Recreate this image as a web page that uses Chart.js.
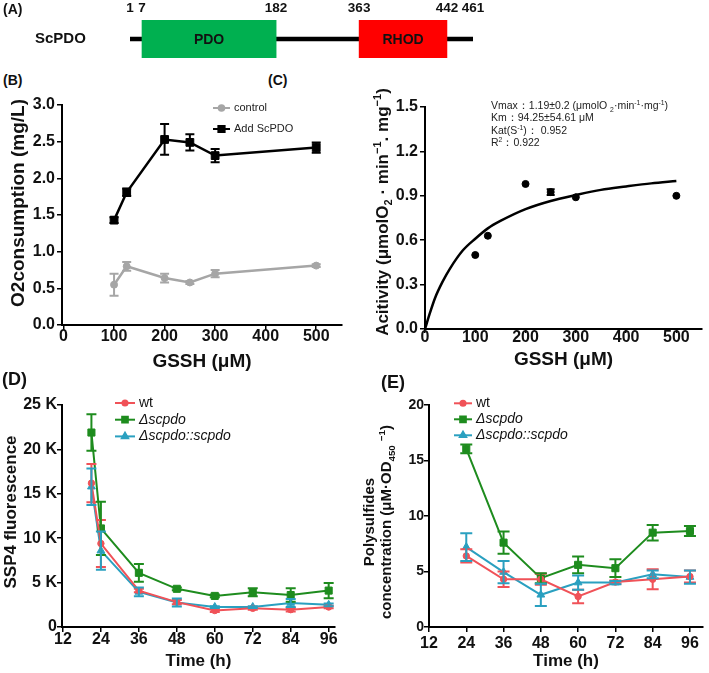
<!DOCTYPE html>
<html>
<head>
<meta charset="utf-8">
<script src="https://cdn.jsdelivr.net/npm/chart.js@4.4.1/dist/chart.umd.min.js"></script>
<style>
  body { margin: 0; background: #fff; font-family: Arial, "Liberation Sans", sans-serif; color: #111; }
  #fig { position: relative; width: 709px; height: 673px; overflow: hidden; }
  #fig canvas { position: absolute; }
  .lbl { position: absolute; font-weight: bold; white-space: nowrap; line-height: 1; }
  .ytitle { position: absolute; font-weight: bold; white-space: nowrap; text-align: center;
            transform: translate(-50%, -50%) rotate(-90deg); }
  .note { position: absolute; font-size: 10.5px; line-height: 12.3px; color: #222; white-space: nowrap; }
  sub, sup { font-size: 65%; line-height: 0; }
</style>
</head>
<body>
<div id="fig">
  <canvas id="cA" width="709" height="70" style="left:0px;top:0px"></canvas>
  <canvas id="cB" width="354" height="285" style="left:0px;top:88px"></canvas>
  <canvas id="cC" width="355" height="285" style="left:354px;top:88px"></canvas>
  <canvas id="cD" width="354" height="281" style="left:0px;top:392px"></canvas>
  <canvas id="cE" width="355" height="281" style="left:354px;top:392px"></canvas>

  <div class="lbl" style="left:3px;top:2px;font-size:14px">(A)</div>
  <div class="lbl" style="left:3px;top:73px;font-size:14px">(B)</div>
  <div class="lbl" style="left:268px;top:73px;font-size:14px">(C)</div>
  <div class="lbl" style="left:2px;top:370px;font-size:18px">(D)</div>
  <div class="lbl" style="left:381px;top:373px;font-size:18px">(E)</div>

  <div class="ytitle" style="left:18px;top:203px;font-size:19px">O2consumption (mg/L)</div>
  <div class="ytitle" style="left:383px;top:212px;font-size:17px">Acitivity (μmolO<sub>2</sub> · min<sup>−1</sup>. mg<sup>−1</sup>)</div>
  <div class="ytitle" style="left:11px;top:512px;font-size:17px">SSP4 fluorescence</div>
  <div class="ytitle" style="left:377px;top:522px;font-size:15px;line-height:17px">Polysulfides<br>concentration (μM·OD<sub>450</sub> <sup>−1</sup>)</div>

  <div class="note" style="left:491px;top:99px">
    Vmax：1.19±0.2 (μmolO <sub>2</sub>·min<sup>-1</sup>·mg<sup>-1</sup>)<br>
    Km：94.25±54.61 μM<br>
    Kat(S<sup>-1</sup>)： 0.952<br>
    R<sup>2</sup>：0.922
  </div>
</div>

<script>
// ── Data ─────────────────────────────────────────────────────────────────
// (A) ScPDO domain map (residue numbers)
const aProtein = ['ScPDO'];
const aLength = [1, 461];
const aDomainNames = ['PDO', 'RHOD'];
const aDomainStart = [17, 363];
const aDomainEnd = [182, 442];
const aTickValues = [1, 17, 182, 363, 442, 461];
const aTickLabels = ['1', '7', '182', '363', '442', '461'];

// (B) O2 consumption vs GSSH
const bConc = [100, 125, 200, 250, 300, 500];
const bControl = [0.55, 0.80, 0.64, 0.58, 0.70, 0.81];
const bControlErr = [0.15, 0.06, 0.06, 0.02, 0.05, 0.02];
const bScPDO = [1.43, 1.81, 2.53, 2.49, 2.31, 2.42];
const bScPDOErr = [0.04, 0.05, 0.21, 0.11, 0.09, 0.07];
const bXTicks = [0, 100, 200, 300, 400, 500];
const bYTicks = [0, 0.5, 1.0, 1.5, 2.0, 2.5, 3.0];

// (C) activity vs GSSH, with the fitted curve
const cConc = [100, 125, 200, 250, 300, 500];
const cActivity = [0.50, 0.63, 0.98, 0.925, 0.89, 0.90];
const cActivityErr = [0, 0, 0, 0.02, 0, 0];
const cFitConc = [0, 10, 20, 35, 50, 75, 100, 125, 150, 200, 250, 300, 350, 400, 450, 500];
const cFitActivity = [0, 0.11, 0.21, 0.32, 0.41, 0.53, 0.61, 0.68, 0.73, 0.81, 0.865, 0.905, 0.94, 0.963, 0.984, 1.0];
const cXTicks = [0, 100, 200, 300, 400, 500];
const cYTicks = [0, 0.3, 0.6, 0.9, 1.2, 1.5];

// (D) SSP4 fluorescence over time
const dTime = [21, 24, 36, 48, 60, 72, 84, 96];
const dWt = [16200, 9400, 4100, 2800, 1850, 2100, 1950, 2250];
const dWtErr = [2150, 2650, 200, 250, 150, 150, 200, 150];
const dKo = [21900, 11100, 6100, 4300, 3500, 3900, 3600, 4100];
const dKoErr = [2050, 3000, 1000, 150, 150, 450, 750, 850];
const dComp = [15800, 8600, 3950, 2750, 2250, 2250, 2700, 2500];
const dCompErr = [2050, 2150, 500, 450, 100, 100, 450, 150];
const dXTicks = [12, 24, 36, 48, 60, 72, 84, 96];
const dYTicks = [0, 5000, 10000, 15000, 20000, 25000];
const dYTickLabels = ['0', '5 K', '10 K', '15 K', '20 K', '25 K'];

// (E) polysulfide concentration over time
const eTime = [24, 36, 48, 60, 72, 84, 96];
const eWt = [6.4, 4.3, 4.3, 2.75, 4.05, 4.3, 4.55];
const eWtErr = [0.6, 0.7, 0.5, 0.6, 0.15, 0.9, 0.55];
const eKo = [16.05, 7.6, 4.4, 5.6, 5.3, 8.5, 8.65];
const eKoErr = [0.4, 1.0, 0.45, 0.75, 0.8, 0.7, 0.45];
const eComp = [7.2, 4.95, 2.9, 4.0, 4.0, 4.75, 4.5];
const eCompErr = [1.25, 1.0, 1.0, 0.65, 0.15, 0.35, 0.6];
const eXTicks = [12, 24, 36, 48, 60, 72, 84, 96];
const eYTicks = [0, 5, 10, 15, 20];

const strainLabels = ['wt', 'Δscpdo', 'Δscpdo::scpdo'];

// ── Colours ──────────────────────────────────────────────────────────────
const RED = '#f05258', GREEN = '#1e8c1e', CYAN = '#2aa0c0', GREY = '#a6a6a6';

Chart.defaults.font.family = 'Arial, "Liberation Sans", sans-serif';
Chart.defaults.color = '#111';

// Schematic (not-to-scale) axis for the domain map
class SchematicScale extends Chart.LinearScale {
    getPixelForValue(value) {
        const stops = this.options.stops;
        if (!stops) return super.getPixelForValue(value);
        let i = 1;
        while (i < stops.length - 1 && value > stops[i][0]) i++;
        const [v0, f0] = stops[i - 1], [v1, f1] = stops[i];
        return this.getPixelForDecimal(f0 + (value - v0) / (v1 - v0) * (f1 - f0));
    }
}
SchematicScale.id = 'schematic';
SchematicScale.defaults = Chart.LinearScale.defaults;
Chart.register(SchematicScale);

// ── Plugins ──────────────────────────────────────────────────────────────
const errorBars = {
    id: 'errorBars',
    afterDatasetsDraw(chart, args, opts) {
        const ctx = chart.ctx, ys = chart.scales.y, cap = opts.cap || 5;
        chart.data.datasets.forEach((ds, i) => {
            if (!ds.err) return;
            const meta = chart.getDatasetMeta(i);
            ctx.save();
            ctx.strokeStyle = ds.borderColor;
            ctx.lineWidth = opts.width || 2;
            meta.data.forEach((pt, j) => {
                const e = ds.err[j];
                if (!e) return;
                const v = ds.data[j].y;
                const top = ys.getPixelForValue(v + e), bot = ys.getPixelForValue(v - e);
                ctx.beginPath();
                ctx.moveTo(pt.x, top); ctx.lineTo(pt.x, bot);
                ctx.moveTo(pt.x - cap, top); ctx.lineTo(pt.x + cap, top);
                ctx.moveTo(pt.x - cap, bot); ctx.lineTo(pt.x + cap, bot);
                ctx.stroke();
            });
            ctx.restore();
        });
    }
};

const inLegend = {
    id: 'inLegend',
    afterDraw(chart, args, o) {
        if (o.x === undefined) return;
        const ctx = chart.ctx;
        let row = 0;
        chart.data.datasets.forEach(ds => {
            if (ds.noLegend) return;
            const y = o.y + row * o.gap;
            row++;
            ctx.save();
            ctx.strokeStyle = ds.borderColor;
            ctx.fillStyle = ds.backgroundColor;
            ctx.lineWidth = o.lineWidth || 2;
            ctx.beginPath();
            ctx.moveTo(o.x, y); ctx.lineTo(o.x + o.len, y);
            ctx.stroke();
            Chart.helpers.drawPoint(ctx, { pointStyle: ds.pointStyle, radius: ds.pointRadius * 0.8, borderWidth: 1, rotation: 0 },
                o.x + o.len / 2, y);
            ctx.font = (ds.italic ? 'italic ' : '') + o.font;
            ctx.fillStyle = o.color || '#111';
            ctx.textBaseline = 'middle';
            ctx.textAlign = 'left';
            ctx.fillText(ds.label, o.x + o.len + o.pad, y);
            ctx.restore();
        });
    }
};

const domainText = {
    id: 'domainText',
    afterDatasetsDraw(chart) {
        const ctx = chart.ctx;
        chart.data.datasets.forEach((ds, i) => {
            if (!ds.showName) return;
            const bar = chart.getDatasetMeta(i).data[0];
            ctx.save();
            ctx.font = 'bold 14px Arial, "Liberation Sans", sans-serif';
            ctx.fillStyle = '#111';
            ctx.textAlign = 'center';
            ctx.textBaseline = 'middle';
            ctx.fillText(ds.label, (bar.x + bar.base) / 2, bar.y + 1);
            ctx.restore();
        });
    }
};

// ── Helpers ──────────────────────────────────────────────────────────────
const pts = (xs, ys) => xs.map((x, i) => ({ x: x, y: ys[i] }));

function axis(o) {
    return {
        type: 'linear',
        min: o.min,
        max: o.max,
        afterBuildTicks: s => { s.ticks = o.values.map(v => ({ value: v })); },
        afterFit: s => { if (s.isHorizontal()) s.height = o.size; else s.width = o.size; },
        border: { display: true, color: '#000', width: 2 },
        grid: { display: true, drawOnChartArea: false, drawTicks: true, tickLength: o.tl || 5, color: '#000', lineWidth: 1.5 },
        ticks: {
            autoSkip: false, maxRotation: 0, padding: o.pad,
            font: { size: o.fs, weight: 'bold' }, color: '#111',
            callback: (v, i) => o.labels[i]
        },
        title: o.title
            ? { display: true, text: o.title, font: { size: o.tfs, weight: 'bold' }, color: '#111', padding: { top: 0, bottom: o.tpad || 0 } }
            : { display: false }
    };
}

function series(label, xs, ys, err, color, style, radius, width, italic) {
    return {
        label: label, data: pts(xs, ys), err: err,
        borderColor: color, backgroundColor: color,
        pointStyle: style, pointRadius: radius, pointHoverRadius: radius, pointBorderWidth: 1,
        showLine: true, borderWidth: width, italic: italic, clip: false
    };
}

const base = { responsive: false, animation: false, events: [] };

// ── (A) Domain map ───────────────────────────────────────────────────────
new Chart(document.getElementById('cA'), {
    type: 'bar',
    data: {
        labels: aProtein,
        datasets: [
            { label: 'backbone', data: [aLength], backgroundColor: '#000', barThickness: 4, order: 2, grouped: false }
        ].concat(aDomainNames.map((n, i) => ({
            label: n, data: [[aDomainStart[i], aDomainEnd[i]]],
            backgroundColor: i === 0 ? '#00b050' : '#ff0000',
            barThickness: 38, order: 1, grouped: false, showName: true
        })))
    },
    options: Object.assign({}, base, {
        indexAxis: 'y',
        layout: { padding: { left: 35, right: 236, top: 0, bottom: 12 } },
        plugins: { legend: { display: false }, tooltip: { enabled: false } },
        scales: {
            x: {
                type: 'schematic', position: 'top', min: 1, max: 461,
                stops: [[1, 0], [17, 0.035], [182, 0.426], [363, 0.668], [442, 0.924], [461, 1]],
                afterBuildTicks: s => { s.ticks = aTickValues.map(v => ({ value: v })); },
                afterFit: s => { s.height = 20; },
                border: { display: false },
                grid: { display: false },
                ticks: { autoSkip: false, maxRotation: 0, padding: -4, font: { size: 13.5, weight: 'bold' }, color: '#111',
                         callback: (v, i) => aTickLabels[i] }
            },
            y: {
                afterFit: s => { s.width = 95; },
                border: { display: false },
                grid: { display: false },
                ticks: { crossAlign: 'far', font: { size: 15, weight: 'bold' }, color: '#111' }
            }
        }
    }),
    plugins: [domainText]
});

// ── (B) O2 consumption ───────────────────────────────────────────────────
new Chart(document.getElementById('cB'), {
    type: 'scatter',
    data: {
        datasets: [
            series('control', bConc, bControl, bControlErr, GREY, 'circle', 3.5, 2.5),
            series('Add ScPDO', bConc, bScPDO, bScPDOErr, '#000', 'rect', 5.5, 2.5)
        ]
    },
    options: Object.assign({}, base, {
        layout: { padding: { left: 0, right: 12, top: 17, bottom: 0 } },
        plugins: {
            legend: { display: false }, tooltip: { enabled: false },
            errorBars: { cap: 4.5, width: 2 },
            inLegend: { x: 213, y: 20, gap: 21, len: 17, pad: 4, font: '11px Arial, "Liberation Sans", sans-serif', color: '#222' }
        },
        scales: {
            x: axis({ min: -3, max: 551, values: bXTicks, labels: bXTicks.map(String), size: 48, fs: 16, pad: -3,
                      title: 'GSSH (μM)', tfs: 19 }),
            y: axis({ min: 0, max: 3, values: bYTicks, labels: bYTicks.map(v => v.toFixed(1)), size: 62, fs: 16, pad: 2 })
        }
    }),
    plugins: [errorBars, inLegend]
});

// ── (C) Activity ─────────────────────────────────────────────────────────
new Chart(document.getElementById('cC'), {
    type: 'scatter',
    data: {
        datasets: [
            {
                label: 'fit', data: pts(cFitConc, cFitActivity), showLine: true, pointRadius: 0,
                borderColor: '#000', borderWidth: 2.5, cubicInterpolationMode: 'monotone', clip: false
            },
            {
                label: 'activity', data: pts(cConc, cActivity), err: cActivityErr, showLine: false,
                pointStyle: 'circle', pointRadius: 3.5, borderColor: '#000', backgroundColor: '#000', clip: false
            }
        ]
    },
    options: Object.assign({}, base, {
        layout: { padding: { left: 0, right: 7, top: 19, bottom: 0 } },
        plugins: { legend: { display: false }, tooltip: { enabled: false }, errorBars: { cap: 4, width: 2 } },
        scales: {
            x: axis({ min: 0, max: 551, values: cXTicks, labels: cXTicks.map(String), size: 44, fs: 16, pad: -5,
                      tl: 4, title: 'GSSH (μM)', tfs: 19, tpad: 2 }),
            y: axis({ min: 0, max: 1.5, values: cYTicks, labels: cYTicks.map(v => v.toFixed(1)), size: 71, fs: 16, pad: 2 })
        }
    }),
    plugins: [errorBars]
});

// ── (D) SSP4 fluorescence ────────────────────────────────────────────────
new Chart(document.getElementById('cD'), {
    type: 'scatter',
    data: {
        datasets: [
            series(strainLabels[0], dTime, dWt, dWtErr, RED, 'circle', 3.2, 2, false),
            series(strainLabels[1], dTime, dKo, dKoErr, GREEN, 'rect', 5, 2, true),
            series(strainLabels[2], dTime, dComp, dCompErr, CYAN, 'triangle', 4.5, 2, true)
        ]
    },
    options: Object.assign({}, base, {
        layout: { padding: { left: 0, right: 19, top: 13, bottom: 0 } },
        plugins: {
            legend: { display: false }, tooltip: { enabled: false },
            errorBars: { cap: 5, width: 2 },
            inLegend: { x: 115, y: 11, gap: 16.7, len: 20, pad: 4, font: '14px Arial, "Liberation Sans", sans-serif', color: '#111' }
        },
        scales: {
            x: axis({ min: 11.7, max: 98, values: dXTicks, labels: dXTicks.map(String), size: 46, fs: 16, pad: -2,
                      title: 'Time (h)', tfs: 17, tpad: 1 }),
            y: axis({ min: 0, max: 25000, values: dYTicks, labels: dYTickLabels, size: 62, fs: 16, pad: 0 })
        }
    }),
    plugins: [errorBars, inLegend]
});

// ── (E) Polysulfides ─────────────────────────────────────────────────────
new Chart(document.getElementById('cE'), {
    type: 'scatter',
    data: {
        datasets: [
            series(strainLabels[0], eTime, eWt, eWtErr, RED, 'circle', 3.2, 2, false),
            series(strainLabels[1], eTime, eKo, eKoErr, GREEN, 'rect', 5, 2, true),
            series(strainLabels[2], eTime, eComp, eCompErr, CYAN, 'triangle', 4.5, 2, true)
        ]
    },
    options: Object.assign({}, base, {
        layout: { padding: { left: 0, right: 0, top: 13, bottom: 0 } },
        plugins: {
            legend: { display: false }, tooltip: { enabled: false },
            errorBars: { cap: 6, width: 2 },
            inLegend: { x: 100, y: 11.3, gap: 16, len: 18, pad: 4, font: '14px Arial, "Liberation Sans", sans-serif', color: '#111' }
        },
        scales: {
            x: axis({ min: 12, max: 100.2, values: eXTicks, labels: eXTicks.map(String), size: 46, fs: 16, pad: 2,
                      title: 'Time (h)', tfs: 17, tpad: 1 }),
            y: axis({ min: 0, max: 20, values: eYTicks, labels: eYTicks.map(String), size: 75, fs: 14, pad: 0 })
        }
    }),
    plugins: [errorBars, inLegend]
});
</script>
</body>
</html>
